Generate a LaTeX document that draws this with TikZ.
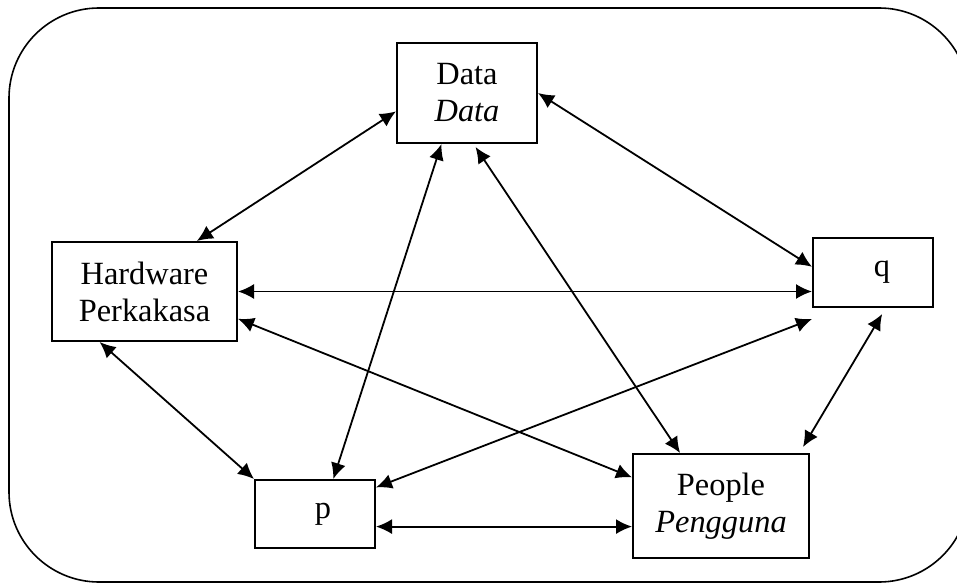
\documentclass[tikz,border=0pt]{standalone}
\usepackage{fontspec}
\setmainfont{Liberation Serif}
\usetikzlibrary{arrows.meta,calc}

\begin{document}
\begin{tikzpicture}[x=0.5pt,y=-0.5pt,
    comp/.style={draw,line width=1pt,align=center,inner sep=0pt,
      font=\fontsize{16.2}{18.5}\selectfont},
    rel/.style={{Latex[length=8pt,width=7.5pt]}-{Latex[length=8pt,width=7.5pt]},line width=0.9pt}]
    \useasboundingbox (0,0) rectangle (957,583);

    % Outer frame
    \draw[line width=0.8pt,rounded corners=45pt] (9,8) rectangle (969,582);

    % Components
    \node[comp,minimum width=70pt,minimum height=50pt] (data) at (467,93) {Data\\\textit{Data}};
    \node[comp,minimum width=92.5pt,minimum height=49.5pt] (hw) at (144.5,291.5) {Hardware\\Perkakasa};
    \node[comp,minimum width=60pt,minimum height=34.5pt] (q) at (873,272.5) {\hspace*{9pt}q};
    \node[comp,minimum width=60pt,minimum height=34pt] (p) at (315,514) {\hspace*{8pt}p};
    \node[comp,minimum width=88pt,minimum height=52pt] (people) at (721,506) {People\\\textit{Pengguna}};

    % Relations
    \draw[rel] ($(data.north west)!0.68!(data.south west)$) -- ($(hw.north west)!0.78!(hw.north east)$);
    \draw[rel] (data.east) -- ($(q.north west)!0.42!(q.south west)$);
    \draw[rel] ($(data.south west)!0.32!(data.south east)$) -- ($(p.north west)!0.65!(p.north east)$);
    \draw[rel] ($(data.south west)!0.56!(data.south east)+(0,3)$) -- ($(people.north west)!0.27!(people.north east)$);
    \draw[rel] (hw.east) -- (hw.east -| q.west);
    \draw[rel] ($(hw.north east)!0.77!(hw.south east)$) -- ($(people.north west)!0.23!(people.south west)$);
    \draw[rel] ($(hw.south west)!0.26!(hw.south east)$) -- (p.north west);
    \draw[rel] ($(q.south west)+(0,11)$) -- ($(p.north east)!0.12!(p.south east)$);
    \draw[rel] ($(p.north east)!0.68!(p.south east)$) coordinate (pe) -- (pe -| people.west);
    \draw[rel] ($(q.south west)!0.575!(q.south east)+(0,6)$) -- ($(people.north east)+(-7,-6)$);
  \end{tikzpicture}
\end{document}
